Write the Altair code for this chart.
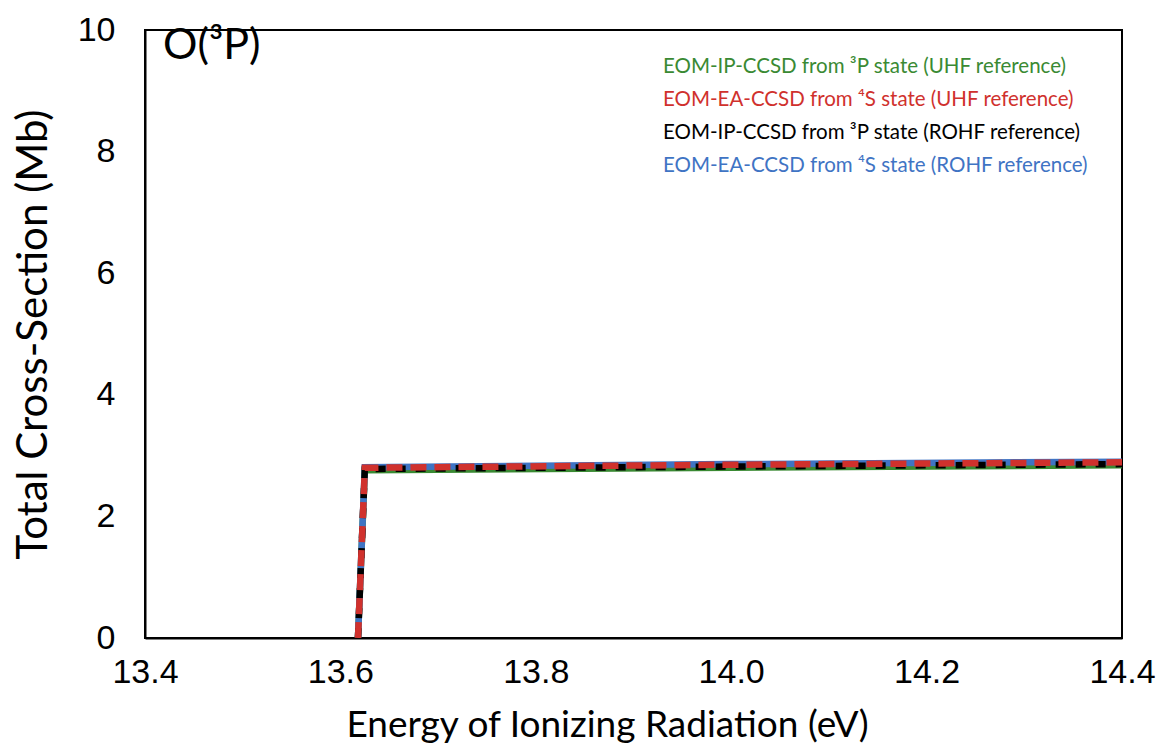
import altair as alt
import pandas as pd

# Data
energy = [13.618, 13.625, 14.0, 14.4]
green_uhf_ip = [0.0, 2.76, 2.80, 2.84]
red_uhf_ea = [0.0, 2.80, 2.85, 2.89]
black_rohf_ip = [0.0, 2.78, 2.82, 2.86]
blue_rohf_ea = [0.0, 2.81, 2.86, 2.90]

series_names = [
    "EOM-IP-CCSD from ³P state (UHF reference)",
    "EOM-EA-CCSD from ⁴S state (UHF reference)",
    "EOM-IP-CCSD from ³P state (ROHF reference)",
    "EOM-EA-CCSD from ⁴S state (ROHF reference)",
]
series_colors = ["#3a8a33", "#d0312d", "#000000", "#3f74c4"]
x_ticks = [13.4, 13.6, 13.8, 14.0, 14.2, 14.4]
y_ticks = [0, 2, 4, 6, 8, 10]
panel_label = "O(³P)"

def frame(vals, name):
    return pd.DataFrame({"E": energy, "sigma": vals, "series": name})

df_green = frame(green_uhf_ip, series_names[0])
df_red = frame(red_uhf_ea, series_names[1])
df_black = frame(black_rohf_ip, series_names[2])
df_blue = frame(blue_rohf_ea, series_names[3])

xs = alt.Scale(domain=[13.4, 14.4], nice=False, zero=False)
ys = alt.Scale(domain=[0, 10], nice=False)

X = alt.X("E:Q", scale=xs,
          axis=alt.Axis(values=x_ticks, format=".1f", title="Energy of Ionizing Radiation (eV)",
                        grid=False, ticks=False, labelPadding=17, titlePadding=18,
                        labelFlush=False, titleX=462))
Y = alt.Y("sigma:Q", scale=ys,
          axis=alt.Axis(values=y_ticks, format="d", title="Total Cross-Section (Mb)",
                        grid=False, ticks=False, labelPadding=30, titlePadding=22,
                        labelFlush=False, titleFontSize=42))

def line(df, color, dash=None, width=6.5):
    kw = dict(color=color, strokeWidth=width, clip=True, strokeCap="butt")
    if dash:
        kw["strokeDash"] = dash
    return alt.Chart(df).mark_line(**kw).encode(x=X, y=Y, order="E:Q")

l_green = line(df_green, series_colors[0])
l_blue = line(df_blue, series_colors[3])
l_black = line(df_black, series_colors[2], dash=[10, 10])
l_red = line(df_red, series_colors[1], dash=[16, 8])

legend_layers = []
for i, (name, col) in enumerate(zip(series_names, series_colors)):
    legend_layers.append(
        alt.Chart(pd.DataFrame({"label": [name]})).mark_text(
            align="left", baseline="middle",
            font="Lato", fontSize=20.5, color=col
        ).encode(x=alt.value(518), y=alt.value(37 + 33 * i), text="label:N")
    )

title = alt.Chart(pd.DataFrame({"t": [panel_label]})).mark_text(
    align="left", baseline="middle", font="Lato", fontSize=43, color="black"
).encode(x=alt.value(18), y=alt.value(16), text="t:N")

chart = alt.layer(l_green, l_blue, l_black, l_red, *legend_layers, title).properties(
    width=977, height=608,
    autosize=alt.AutoSizeParams(type="none"),
    padding={"left": 145, "top": 30, "right": 39, "bottom": 114},
    background="white",
).configure_view(
    stroke="black", strokeWidth=2
).configure_axis(
    labelFont="Liberation Sans", labelFontSize=34, labelColor="black",
    titleFont="Lato", titleFontSize=37, titleColor="black", titleFontWeight="normal",
    domainColor="black", domainWidth=2,
)

chart.save("out.html", embed_options={"renderer": "svg", "actions": False})
